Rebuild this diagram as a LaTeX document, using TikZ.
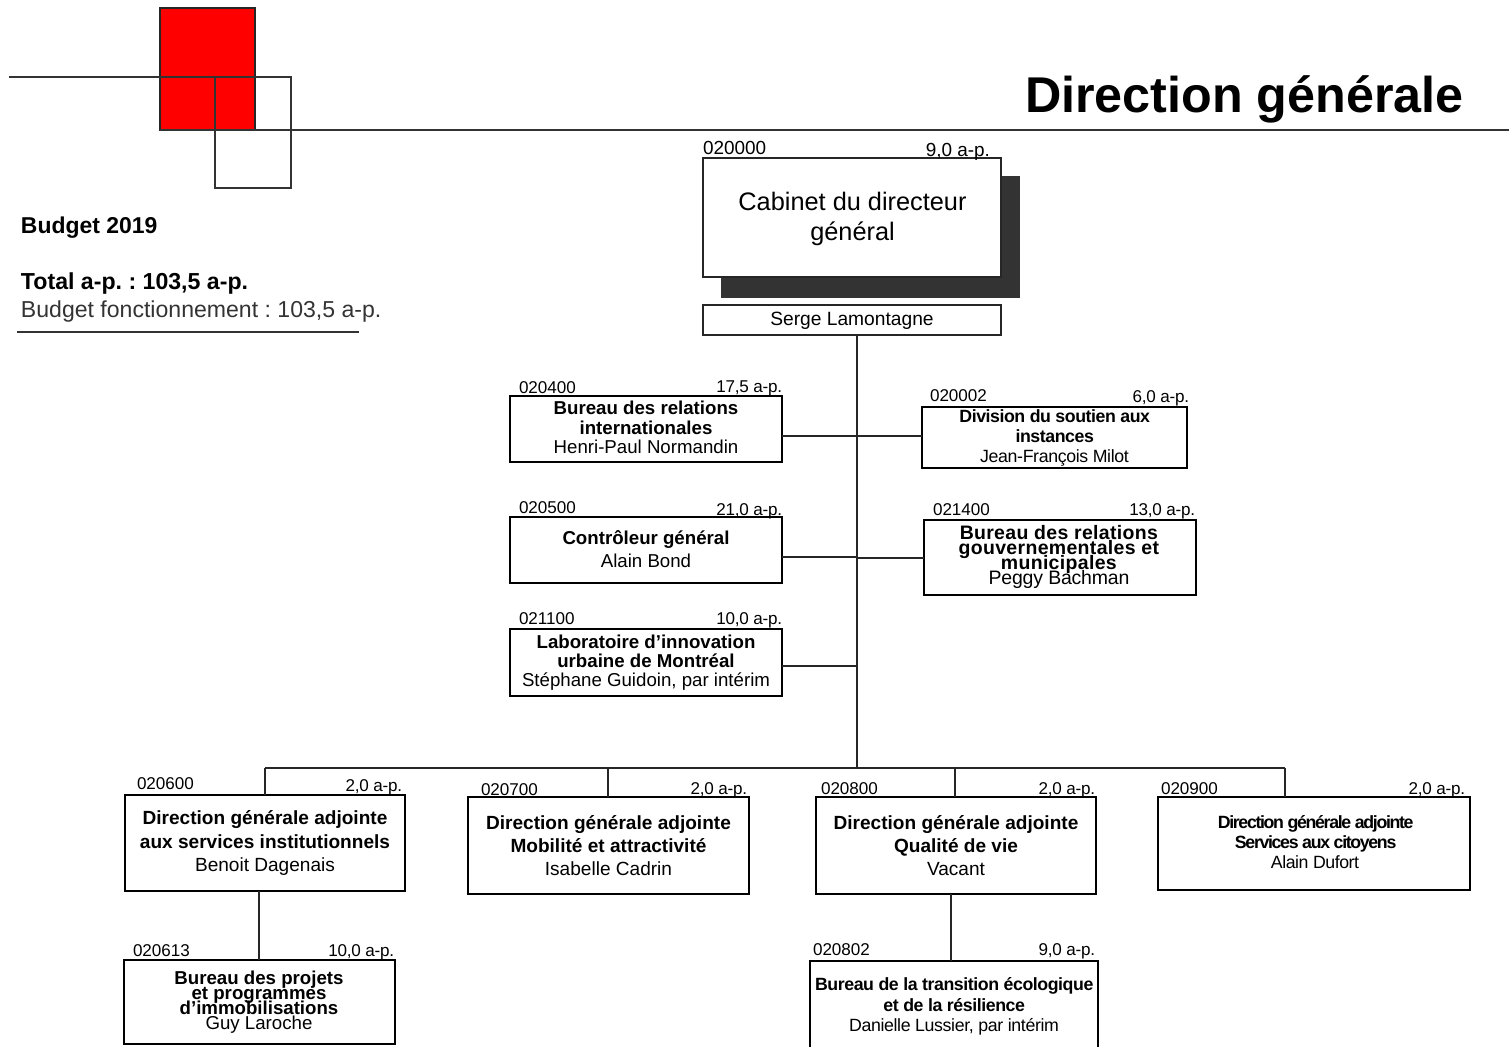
\documentclass[tikz,border=0pt]{standalone}
\usepackage{fontspec}
\setmainfont{Liberation Sans}
\normallineskiplimit=-100pt
\AtBeginDocument{\normallineskiplimit=-100pt\lineskiplimit=-100pt\frenchspacing}
\newcommand{\bx}[5]{\node[obox,minimum width={(#4-#2)*0.75pt},minimum height={(#5-#3)*0.75pt}] (#1) at ({(#2+#4)/2},{(#3+#5)/2}) {};}
\newcommand{\tx}[6]{\node[txt,font=\fontsize{#4}{#5}\selectfont] (#1) at (#2,#3) {#6};}
\newcommand{\bxcode}[4]{\node[lab,anchor=base west] (#1) at (#2,#3) {#4};}
\newcommand{\bxap}[4]{\node[lab,anchor=base east] (#1) at (#2,#3) {\ls{-1.5}#4};}
\newcommand{\ls}[1]{\addfontfeature{LetterSpace=#1}}
\begin{document}
\begin{tikzpicture}[x=0.75pt,y=-0.75pt,
  obox/.style={draw=black,line width=2pt,fill=white,inner sep=0pt,outer sep=0pt},
  thinbox/.style={draw=black!85,line width=0.9pt,fill=white,inner sep=0pt,outer sep=0pt},
  txt/.style={align=center,inner sep=0pt,outer sep=0pt,text=black},
  lab/.style={inner sep=0pt,outer sep=0pt,font=\fontsize{12.8}{14}\selectfont,text=black},
  biglab/.style={lab,font=\fontsize{14.2}{16}\selectfont},
  side/.style={inner sep=0pt,outer sep=0pt,anchor=base west,text=black},
  conn/.style={draw=black!85,line width=0.95pt},
  rule/.style={draw=black!80,line width=0.95pt}]
\path[use as bounding box,clip] (0,0) rectangle (1509,1046);
% logo
\fill[red,draw=black!85,line width=0.95pt] (160,8) rectangle (255,130);
\draw[rule] (9,77) -- (291,77) -- (291,188) -- (215,188) -- (215,77);
\draw[rule] (160,130) -- (1509,130);
\node[side,font=\bfseries\fontsize{37.7}{40}\selectfont] (title) at (1025,112.5) {Direction générale};
% budget
\node[side,font=\bfseries\fontsize{17.2}{20}\selectfont] (budget) at (21,233) {Budget 2019};
\node[side,font=\bfseries\fontsize{17.35}{20}\selectfont] (total) at (21,289) {Total a-p. : 103,5 a-p.};
\node[side,font=\fontsize{17.3}{20}\selectfont,text=black!80] (fonct) at (21,317) {Budget fonctionnement : 103,5 a-p.};
\draw[rule] (17,332) -- (359,332);
% key coordinates of connectors
\coordinate (trunktop) at (857,335);
\coordinate (trunkbot) at (857,768);
\coordinate (j1) at (857,436);
\coordinate (j2) at (857,557);
\coordinate (j2r) at (857,558);
\coordinate (j3) at (857,666);
\coordinate (busl) at (265,768);
\coordinate (busr) at (1285,768);
\coordinate (d7) at (608,768);
\coordinate (d8) at (955,768);
\coordinate (d9) at (1285,768);
\coordinate (s6) at (259,891);
\coordinate (s8) at (951,894);
% cabinet
\fill[black!80] (721,176) rectangle (1020,298);
\node[thinbox,minimum width={298*0.75pt},minimum height={119*0.75pt}] (cab) at (852,217.5) {};
\tx{cabt}{852.5}{219}{19}{23}{Cabinet du directeur\\général}
\node[biglab,anchor=base west] (cabc) at (703,154) {020000};
\node[biglab,anchor=base east] (caba) at (990,156) {9,0 a-p.};
\node[thinbox,minimum width={298*0.75pt},minimum height={30*0.75pt},text depth=0.25ex,font=\fontsize{14.4}{16}\selectfont] (serge) at (852,320) {Serge Lamontagne};
% connectors
\draw[conn] (serge.south -| trunktop) -- (trunkbot);
\draw[conn] (busl) -- (busr);
% boxes
\bx{b020400}{510}{396}{782}{462}
\bx{b020002}{922}{407}{1187}{468}
\bx{b020500}{510}{517}{782}{583}
\bx{b021400}{924}{520}{1196}{595}
\bx{b021100}{510}{629}{782}{696}
\bx{b020600}{125}{795}{405}{891}
\bx{b020700}{468}{797}{749}{894}
\bx{b020800}{816}{797}{1096}{894}
\bx{b020900}{1158}{797}{1470}{890}
\bx{b020613}{124}{960}{395}{1044}
\bx{b020802}{810}{961}{1098}{1060}
% box connectors
\draw[conn] (b020400.east |- j1) -- (b020002.west |- j1);
\draw[conn] (b020500.east |- j2) -- (j2);
\draw[conn] (j2r) -- (b021400.west |- j2r);
\draw[conn] (b021100.east |- j3) -- (j3);
\draw[conn] (busl) -- (b020600.north);
\draw[conn] (d7) -- (d7 |- b020700.north);
\draw[conn] (d8) -- (d8 |- b020800.north);
\draw[conn] (d9) -- (d9 |- b020900.north);
\draw[conn] (s6) -- (s6 |- b020613.north);
\draw[conn] (s8) -- (s8 |- b020802.north);
% labels
\bxcode{c020400}{519}{393}{020400}\bxap{a020400}{782}{392}{17,5 a-p.}
\bxcode{c020002}{930}{401}{020002}\bxap{a020002}{1189}{402}{6,0 a-p.}
\bxcode{c020500}{519}{513}{020500}\bxap{a020500}{782}{515}{21,0 a-p.}
\bxcode{c021400}{933}{515}{021400}\bxap{a021400}{1195}{515}{13,0 a-p.}
\bxcode{c021100}{519}{624}{021100}\bxap{a021100}{782}{624}{10,0 a-p.}
\bxcode{c020600}{137}{789}{020600}\bxap{a020600}{402}{791}{2,0 a-p.}
\bxcode{c020700}{481}{795}{020700}\bxap{a020700}{747}{794}{2,0 a-p.}
\bxcode{c020800}{821}{794}{020800}\bxap{a020800}{1095}{794}{2,0 a-p.}
\bxcode{c020900}{1161}{794}{020900}\bxap{a020900}{1465}{794}{2,0 a-p.}
\bxcode{c020613}{133}{956}{020613}\bxap{a020613}{394}{956}{10,0 a-p.}
\bxcode{c020802}{813}{955}{020802}\bxap{a020802}{1095}{955}{9,0 a-p.}
% box texts
\tx{t020400}{646}{427.5}{14}{14.6}{\textbf{Bureau des relations}\\\textbf{internationales}\\Henri-Paul Normandin}
\tx{t020002}{1054.5}{438}{13.3}{15.2}{\ls{-2.5}\textbf{Division du soutien aux}\\\ls{-2.5}\textbf{instances}\\\ls{-2}Jean-François Milot}
\tx{t020500}{646}{549}{14}{17.5}{\textbf{Contrôleur général}\\Alain Bond}
\tx{t021400}{1059}{557}{14.6}{11.25}{\ls{1.7}\textbf{Bureau des relations}\\\ls{1.7}\textbf{gouvernementales et}\\\ls{1.7}\textbf{municipales}\\\ls{-1}Peggy Bachman}
\tx{t021100}{646}{662.5}{14}{14.5}{\textbf{Laboratoire d'innovation}\\\textbf{urbaine de Montréal}\\Stéphane Guidoin, par intérim}
\tx{t020600}{265}{843}{14.3}{17.6}{\textbf{Direction générale adjointe}\\\textbf{aux services institutionnels}\\Benoit Dagenais}
\tx{t020700}{608.5}{846}{14.3}{17.2}{\textbf{Direction générale adjointe}\\\textbf{Mobilité et attractivité}\\Isabelle Cadrin}
\tx{t020800}{956}{846}{14.3}{17.2}{\textbf{Direction générale adjointe}\\\textbf{Qualité de vie}\\Vacant}
\tx{t020900}{1315}{842}{13.3}{15.2}{\ls{-7.5}\textbf{Direction générale adjointe}\\\ls{-7.5}\textbf{Services aux citoyens}\\\ls{-2.5}Alain Dufort}
\tx{t020613}{259}{1002.5}{14}{11.25}{\textbf{Bureau des projets}\\\textbf{et programmes}\\\textbf{d'immobilisations}\\Guy Laroche}
\tx{t020802}{954}{1006.5}{13.3}{15.2}{\ls{-2.4}\textbf{Bureau de la transition écologique}\\\ls{-2.4}\textbf{et de la résilience}\\\ls{-2}Danielle Lussier, par intérim}
\end{tikzpicture}
\end{document}
